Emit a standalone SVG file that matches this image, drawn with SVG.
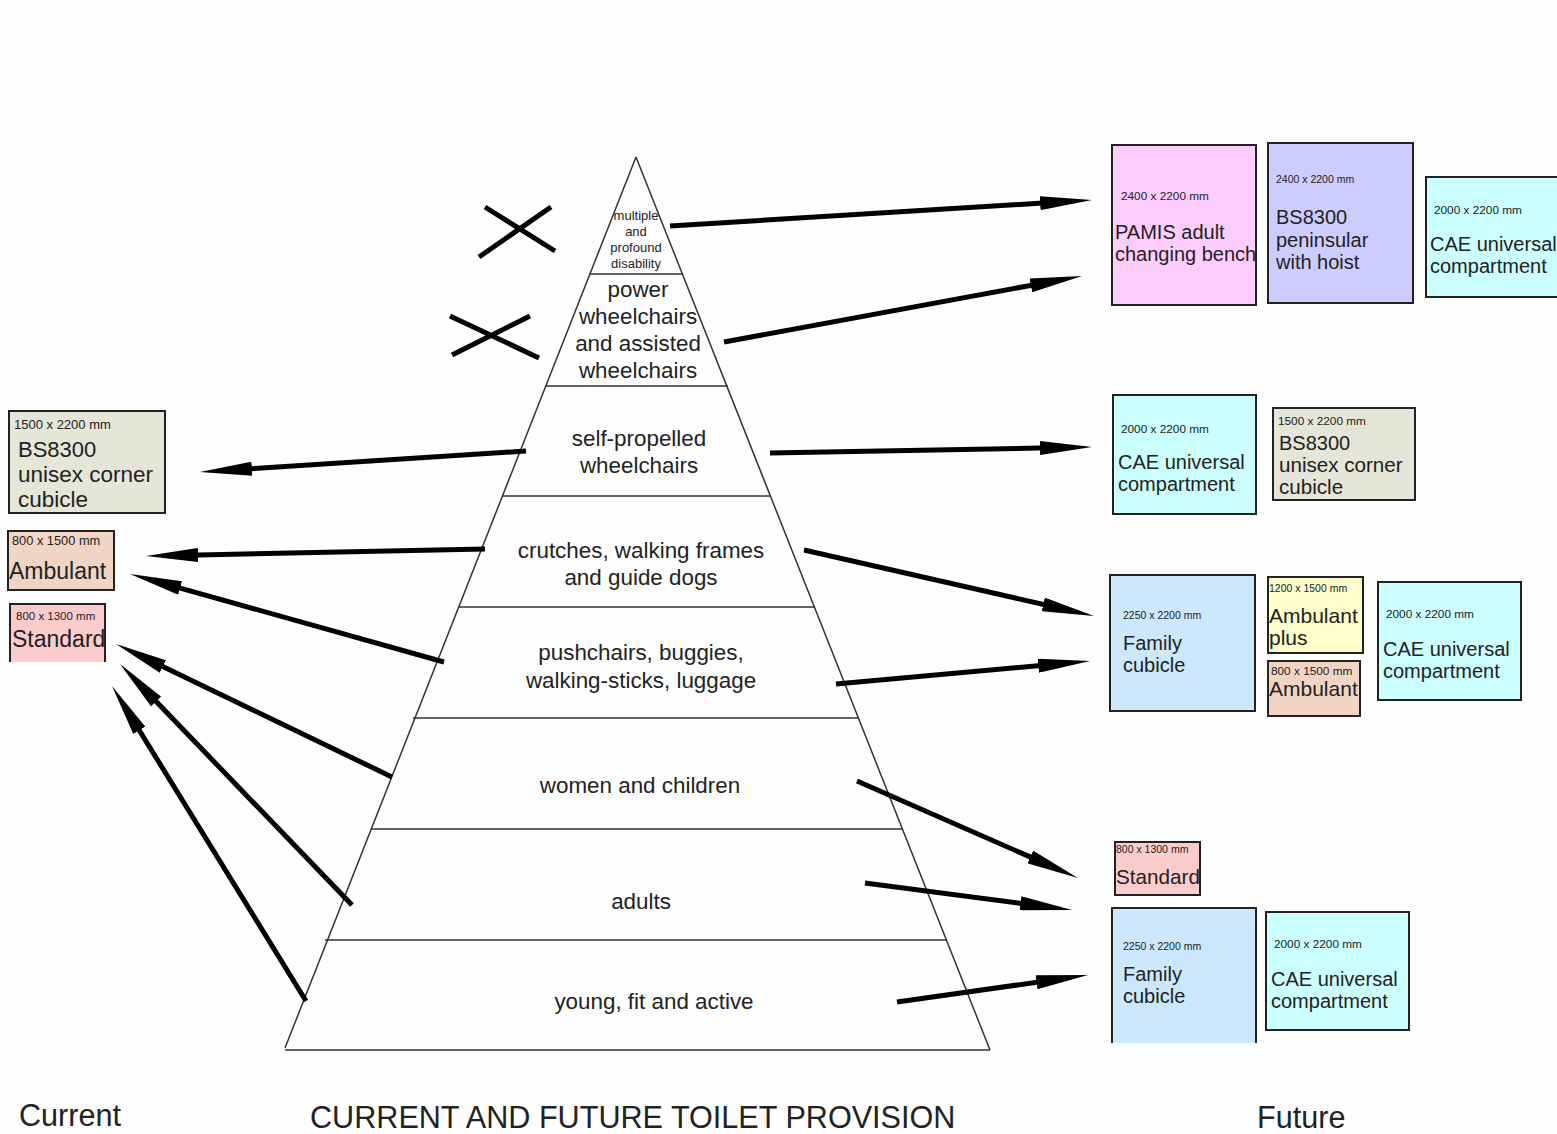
<svg xmlns="http://www.w3.org/2000/svg" width="1557" height="1134" viewBox="0 0 1557 1134">
<defs>
<marker id="ah" markerUnits="userSpaceOnUse" markerWidth="54" markerHeight="14" refX="22" refY="7" orient="auto">
<path d="M0,0 L52,7 L0,14 Z" fill="#000"/>
</marker>
<style>
text{font-family:"Liberation Sans",Arial,sans-serif;fill:#222}
.pt{font-size:22.4px;text-anchor:middle}
.sm{font-size:13px;text-anchor:middle}
.box{stroke:#222;stroke-width:2}
.dim{font-size:11.8px}
.lab{font-size:20px}
.arr{stroke:#000;stroke-width:5;fill:none;marker-end:url(#ah)}
.x{stroke:#000;stroke-width:5}
.pl{stroke:#333;stroke-width:1.5;fill:none}
.big{font-size:30.6px}
</style>
</defs>
<rect width="1557" height="1134" fill="#fefefe"/>

<g id="pyramid">
<path class="pl" d="M636,157 L285,1048 M636,157 L990,1050"/>
<path class="pl" d="M590,274 H683 M545,386 H728 M502,496 H770 M458,607 H815 M413,718 H858 M371,829 H902 M325,940 H947 M285,1050 H990"/>
</g>

<g id="level-multiple">
<text class="sm" x="636" y="220">multiple</text>
<text class="sm" x="636" y="236">and</text>
<text class="sm" x="636" y="252">profound</text>
<text class="sm" x="636" y="268">disability</text>
</g>
<g id="level-power">
<text class="pt" x="638" y="297">power</text>
<text class="pt" x="638" y="324">wheelchairs</text>
<text class="pt" x="638" y="351">and assisted</text>
<text class="pt" x="638" y="378">wheelchairs</text>
</g>
<g id="level-self">
<text class="pt" x="639" y="446">self-propelled</text>
<text class="pt" x="639" y="473">wheelchairs</text>
</g>
<g id="level-crutches">
<text class="pt" x="641" y="558">crutches, walking frames</text>
<text class="pt" x="641" y="585">and guide dogs</text>
</g>
<g id="level-pushchairs">
<text class="pt" x="641" y="660">pushchairs, buggies,</text>
<text class="pt" x="641" y="688">walking-sticks, luggage</text>
</g>
<g id="level-women"><text class="pt" x="640" y="793">women and children</text></g>
<g id="level-adults"><text class="pt" x="641" y="909">adults</text></g>
<g id="level-young"><text class="pt" x="654" y="1009">young, fit and active</text></g>

<g id="crosses">
<path class="x" d="M485,207 L555,251 M479,257 L551,207"/>
<path class="x" d="M450,316 L539,358 M452,355 L530,316"/>
</g>

<g id="connectors">
<line class="arr" x1="670" y1="226" x2="1062.1" y2="201.8"/>
<line class="arr" x1="724" y1="342" x2="1052.5" y2="281.4"/>
<line class="arr" x1="770" y1="453" x2="1062" y2="447.6"/>
<line class="arr" x1="804" y1="550" x2="1064.7" y2="609.3"/>
<line class="arr" x1="836" y1="684" x2="1060.1" y2="663.7"/>
<line class="arr" x1="857" y1="781" x2="1050.5" y2="865.9"/>
<line class="arr" x1="865" y1="883" x2="1042.3" y2="906.1"/>
<line class="arr" x1="897" y1="1002" x2="1058.3" y2="979.2"/>
<line class="arr" x1="526" y1="451" x2="229.9" y2="470.1"/>
<line class="arr" x1="485" y1="549" x2="176" y2="555.4"/>
<line class="arr" x1="444" y1="662" x2="158.9" y2="582.1"/>
<line class="arr" x1="392" y1="777" x2="143" y2="657"/>
<line class="arr" x1="352" y1="905" x2="140.8" y2="685.6"/>
<line class="arr" x1="306" y1="1001" x2="127.7" y2="711.5"/>
</g>

<g id="cur-bs8300">
<rect class="box" x="9" y="411" width="156" height="102" fill="#e5e5d8"/>
<text x="14" y="429" style="font-size:13px">1500 x 2200 mm</text>
<text x="18" y="457" style="font-size:22px">BS8300</text>
<text x="18" y="482" style="font-size:22.5px">unisex corner</text>
<text x="18" y="507" style="font-size:22.5px">cubicle</text>
</g>
<g id="cur-ambulant">
<rect class="box" x="8" y="531" width="106" height="59" fill="#f0d5c5"/>
<text x="12" y="545" style="font-size:12.8px">800 x 1500 mm</text>
<text x="9" y="579" style="font-size:23px">Ambulant</text>
</g>
<g id="cur-standard">
<rect x="10" y="604" width="95" height="58" fill="#fccccc"/>
<path class="box" fill="none" d="M10,662 V604 H105 V662"/>
<text x="16" y="620" style="font-size:11.5px">800 x 1300 mm</text>
<text x="12" y="647" style="font-size:23px">Standard</text>
</g>

<g id="fut-pamis">
<rect class="box" x="1112" y="145" width="144" height="160" fill="#ffccff"/>
<text class="dim" x="1121" y="200">2400 x 2200 mm</text>
<text class="lab" x="1115" y="239">PAMIS adult</text>
<text class="lab" x="1115" y="261">changing bench</text>
</g>
<g id="fut-peninsular">
<rect class="box" x="1268" y="143" width="145" height="160" fill="#ccccff"/>
<text x="1276" y="183" style="font-size:10.5px">2400 x 2200 mm</text>
<text class="lab" x="1276" y="224">BS8300</text>
<text class="lab" x="1276" y="247">peninsular</text>
<text class="lab" x="1276" y="269">with hoist</text>
</g>
<g id="fut-cae1">
<rect class="box" x="1426" y="177" width="140" height="120" fill="#ccffff"/>
<text class="dim" x="1434" y="214">2000 x 2200 mm</text>
<text class="lab" x="1430" y="251">CAE universal</text>
<text class="lab" x="1430" y="273">compartment</text>
</g>

<g id="fut-cae2">
<rect class="box" x="1113" y="395" width="143" height="119" fill="#ccffff"/>
<text class="dim" x="1121" y="433">2000 x 2200 mm</text>
<text class="lab" x="1118" y="469">CAE universal</text>
<text class="lab" x="1118" y="491">compartment</text>
</g>
<g id="fut-bs8300">
<rect class="box" x="1273" y="408" width="142" height="92" fill="#e5e5d8"/>
<text class="dim" x="1278" y="425">1500 x 2200 mm</text>
<text class="lab" x="1279" y="450">BS8300</text>
<text class="lab" x="1279" y="472" style="font-size:20.6px">unisex corner</text>
<text class="lab" x="1279" y="494" style="font-size:20.6px">cubicle</text>
</g>

<g id="fut-family1">
<rect class="box" x="1110" y="575" width="145" height="136" fill="#cce8ff"/>
<text x="1123" y="619" style="font-size:10.5px">2250 x 2200 mm</text>
<text class="lab" x="1123" y="650">Family</text>
<text class="lab" x="1123" y="672">cubicle</text>
</g>
<g id="fut-ambplus">
<rect class="box" x="1268" y="577" width="95" height="76" fill="#ffffcc"/>
<text x="1269" y="592" style="font-size:10.5px">1200 x 1500 mm</text>
<text x="1269" y="623" style="font-size:21px">Ambulant</text>
<text x="1269" y="645" style="font-size:21px">plus</text>
</g>
<g id="fut-ambulant">
<rect class="box" x="1268" y="661" width="92" height="55" fill="#f0d5c5"/>
<text class="dim" x="1271" y="675">800 x 1500 mm</text>
<text x="1269" y="696" style="font-size:21px">Ambulant</text>
</g>
<g id="fut-cae3">
<rect class="box" x="1378" y="582" width="143" height="118" fill="#ccffff"/>
<text class="dim" x="1386" y="618">2000 x 2200 mm</text>
<text class="lab" x="1383" y="656">CAE universal</text>
<text class="lab" x="1383" y="678">compartment</text>
</g>

<g id="fut-standard">
<rect class="box" x="1115" y="842" width="85" height="53" fill="#fccccc"/>
<text x="1116" y="853" style="font-size:10.5px">800 x 1300 mm</text>
<text x="1116" y="884" style="font-size:20.7px">Standard</text>
</g>
<g id="fut-family2">
<rect x="1112" y="908" width="144" height="135" fill="#cce8ff"/>
<path class="box" fill="none" d="M1112,1043 V908 H1256 V1043"/>
<text x="1123" y="950" style="font-size:10.5px">2250 x 2200 mm</text>
<text class="lab" x="1123" y="981">Family</text>
<text class="lab" x="1123" y="1003">cubicle</text>
</g>
<g id="fut-cae4">
<rect class="box" x="1266" y="912" width="143" height="118" fill="#ccffff"/>
<text class="dim" x="1274" y="948">2000 x 2200 mm</text>
<text class="lab" x="1271" y="986">CAE universal</text>
<text class="lab" x="1271" y="1008">compartment</text>
</g>

<g id="titles">
<text class="big" x="19" y="1126">Current</text>
<text class="big" x="310" y="1128">CURRENT AND FUTURE TOILET PROVISION</text>
<text class="big" x="1257" y="1128">Future</text>
</g>
</svg>
